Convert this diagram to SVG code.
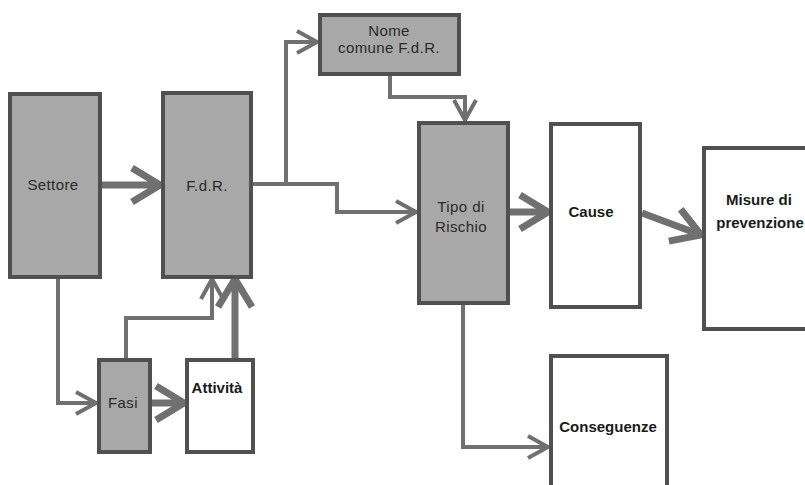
<svg xmlns="http://www.w3.org/2000/svg" width="805" height="485" viewBox="0 0 805 485">
<style>
.box{stroke:#505050;stroke-width:4}
.g{fill:#a8a8a8}
.w{fill:#ffffff}
.t{font-family:"Liberation Sans",Arial,sans-serif;font-size:15px;fill:#2a2a2a;text-anchor:middle;letter-spacing:0.4px}
.tb{font-weight:bold;fill:#1a1a1a;letter-spacing:0}
.c{fill:none;stroke:#707070;stroke-linejoin:miter}
.thin{stroke-width:4;marker-end:url(#ah)}
.thick{stroke-width:7;marker-end:url(#ahb)}
</style>
<defs>
<marker id="ah" markerUnits="userSpaceOnUse" markerWidth="28" markerHeight="28" viewBox="0 0 28 28" refX="23" refY="14" orient="auto">
<path d="M3,3 L23,14 L3,25" fill="none" stroke="#707070" stroke-width="4"/>
</marker>
<marker id="ahb" markerUnits="userSpaceOnUse" markerWidth="40" markerHeight="44" viewBox="0 0 40 44" refX="33" refY="22" orient="auto">
<path d="M5,5 L33,22 L5,39" fill="none" stroke="#707070" stroke-width="7"/>
</marker>
</defs>
<rect width="805" height="485" fill="#ffffff"/>
<g id="connectors">
<path class="c thick" d="M102,185 L160,185"/>
<path class="c thin" d="M252,184 L286,184 L286,42 L317,42"/>
<path class="c thin" d="M286,184 L337,184 L337,212 L416,212"/>
<path class="c thin" d="M390,75 L390,97 L465,97 L465,120"/>
<path class="c thick" d="M509,212 L548,212"/>
<path class="c thick" d="M642,213 L701,235"/>
<path class="c thin" d="M463,304 L463,447 L548,447"/>
<path class="c thin" d="M58,278 L58,403 L96,403"/>
<path class="c thick" d="M151,403 L184,403"/>
<path class="c thin" d="M126,358 L126,318 L212,318 L212,279"/>
<path class="c thick" d="M235,358 L235,279"/>
</g>
<g id="settore"><rect class="box g" x="10" y="94" width="90" height="183"/><text class="t" x="53" y="190">Settore</text></g>
<g id="fdr"><rect class="box g" x="163" y="93" width="88" height="184"/><text class="t" x="207" y="191">F.d.R.</text></g>
<g id="nome"><rect class="box g" x="320" y="15" width="139" height="59"/><text class="t" x="389" y="36">Nome</text><text class="t" x="389" y="53">comune F.d.R.</text></g>
<g id="tipo"><rect class="box g" x="419" y="123" width="89" height="180"/><text class="t" x="461" y="212">Tipo di</text><text class="t" x="461" y="232">Rischio</text></g>
<g id="cause"><rect class="box w" x="551" y="124" width="89" height="183"/><text class="t tb" x="591" y="217">Cause</text></g>
<g id="misure"><rect class="box w" x="704" y="148" width="110" height="181"/><text class="t tb" x="759" y="205">Misure di</text><text class="t tb" x="760" y="228">prevenzione</text></g>
<g id="conseguenze"><rect class="box w" x="551" y="356" width="116" height="140"/><text class="t tb" x="608" y="432">Conseguenze</text></g>
<g id="fasi"><rect class="box g" x="99" y="360" width="51" height="92"/><text class="t" x="123" y="408">Fasi</text></g>
<g id="attivita"><rect class="box w" x="187" y="360" width="66" height="92"/><text class="t tb" x="217" y="393">Attività</text></g>
</svg>
